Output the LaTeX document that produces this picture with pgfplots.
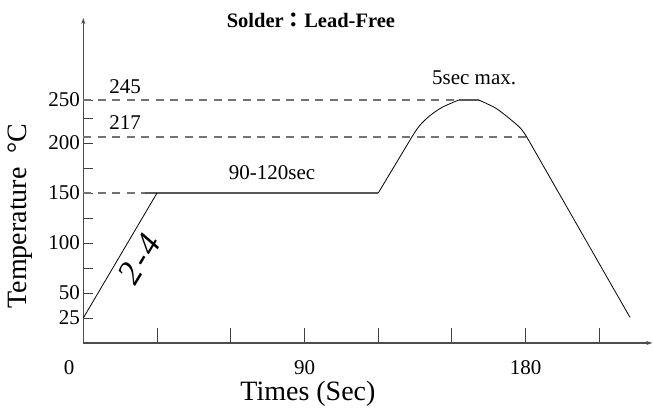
\documentclass[border=0pt]{standalone}
\usepackage{pgfplots}
\pgfplotsset{compat=1.18}
\usepackage{fontspec}
\setmainfont{Liberation Serif}
\newfontfamily\cjk{Noto Sans CJK TC}
\usetikzlibrary{arrows.meta}
\newcommand{\smfont}{\fontsize{21}{24}\selectfont}
\newcommand{\lgfont}{\fontsize{28}{32}\selectfont}
\begin{document}
\begin{tikzpicture}
\begin{axis}[
  at={(0,0)}, anchor=origin,
  scale only axis, width=569pt, height=325pt,
  xmin=0, xmax=231.5, ymin=0, ymax=325,
  axis lines=left,
  axis line style={draw=black!70, line width=1.4pt, -{Stealth[length=6pt,width=4pt]}},
  tick align=inside,
  xtick={30,60,90,120,150,180,210},
  xticklabels={,,90,,,180,},
  ytick={25,50,75,100,125,150,175,200,225,243},
  yticklabels={25,50,,100,,150,,200,,250},
  xtick style={draw=black!75, line width=1pt, /pgfplots/major tick length=15pt},
  ytick style={draw=black!75, line width=1pt, /pgfplots/major tick length=10pt},
  tick label style={font=\smfont},
  xticklabel style={yshift=-14pt},
  /pgf/number format/assume math mode=true,
  clip=false,
]
% dashed reference lines
\addplot[black!55, line width=1.2pt, dash pattern=on 8pt off 6.5pt] coordinates {(0,243) (152.8,243)};
\addplot[black!55, line width=1.2pt, dash pattern=on 8pt off 6.5pt] coordinates {(0,206) (180.5,206)};
\addplot[black!55, line width=1.2pt, dash pattern=on 8pt off 6.5pt] coordinates {(0,150) (25,150)};
% plateau and peak flat (gray)
\addplot[black!65, line width=1.3pt] coordinates {(25,150) (120,150)};
\addplot[black!65, line width=1.3pt] coordinates {(152.8,243) (160.9,243)};
% profile
\addplot[black, line width=0.8pt] coordinates {(0,25) (30,150)};
\addplot[black, line width=0.8pt] coordinates {(120,150) (133.6,205.7)};
\addplot[black, line width=0.8pt, smooth] coordinates {(133.6,205.7) (136.6,216.7) (140.7,226.7) (146.0,235.7) (152.8,243)};
\addplot[black, line width=0.8pt, smooth] coordinates {(160.9,243) (167.7,235) (173.1,225) (177.8,215) (180.5,205.7)};
\addplot[black, line width=0.8pt] coordinates {(180.5,205.7) (222.4,25.7)};
% texts
\node[font=\smfont] at (axis cs:-5.8,-25) {0};
\node[font=\smfont] at (axis cs:17,256) {245};
\node[font=\smfont] at (axis cs:17,220) {217};
\node[font=\smfont] at (axis cs:76.8,170) {90-120sec};
\node[font=\smfont] at (axis cs:159,265) {5sec max.};
\node[font=\fontsize{20.5}{24}\selectfont\bfseries] at (axis cs:92.6,323) {Solder{\cjk ：}Lead-Free};
\node[font=\lgfont] at (axis cs:91.4,-51) {Times (Sec)};
\node[font=\lgfont, rotate=90] at (axis cs:-25.8,127) {Temperature\ \ °C};
\node[font=\fontsize{34}{38}\selectfont\itshape, rotate=59, inner sep=0pt] at (axis cs:22.8,84) {2\hspace{3pt}-\hspace{3pt}4};
\end{axis}
\pgfresetboundingbox
\path (-83.3pt,-65pt) rectangle (569.7pt,343pt);
\end{tikzpicture}
\end{document}
